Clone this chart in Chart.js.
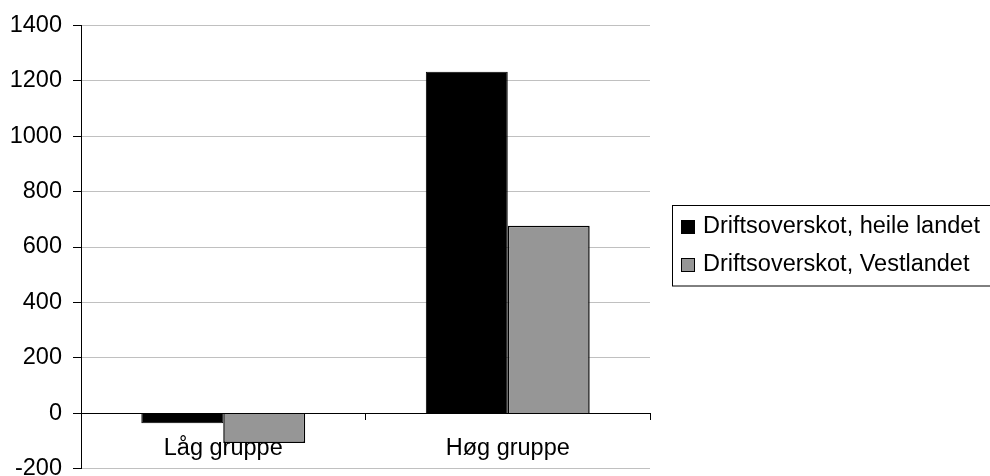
<!DOCTYPE html>
<html>
<head>
<meta charset="utf-8">
<script src="https://cdn.jsdelivr.net/npm/chart.js@4"></script>
<style>
  html, body { margin: 0; background: #fff; overflow: hidden; }
  #wrap { width: 990px; height: 494px; position: relative; }
</style>
</head>
<body>
<div id="wrap"><canvas id="grafica"></canvas></div>
<script>
const categories = ['Låg gruppe', 'Høg gruppe'];
const seriesNames = ['Driftsoverskot, heile landet', 'Driftsoverskot, Vestlandet'];
const heileLandet = [-35, 1232];
const vestlandet = [-107, 677];
const yMin = -200, yMax = 1400, yStep = 200;

const FONT = "'Liberation Sans', Arial, sans-serif";
const FSIZE = 23.5;

// legend drawn as a boxed list to the right, like the original
const boxLegend = {
   id: 'boxLegend',
   afterDraw(chart) {
      const c = chart.ctx;
      c.save();
      c.strokeStyle = '#000';
      c.lineWidth = 1;
      c.strokeRect(672.5, 205.5, 330, 80.5);
      c.font = FSIZE + 'px ' + FONT;
      c.textBaseline = 'middle';
      chart.data.datasets.forEach((ds, i) => {
         const y = 227 + i * 38;
         c.fillStyle = ds.backgroundColor;
         c.fillRect(681, y - 7, 14, 14);
         c.strokeRect(681.5, y - 6.5, 13, 13);
         c.fillStyle = '#000';
         c.fillText(ds.label, 703, y);
      });
      c.restore();
   }
};

const ctx = document.getElementById('grafica').getContext('2d');

const chart = new Chart(ctx, {
   type: 'bar',
   data: {
      labels: categories,
      datasets: [{
         label: seriesNames[0],
         data: heileLandet,
         backgroundColor: '#000000',
         borderColor: '#000000',
         borderWidth: 1
      }, {
         label: seriesNames[1],
         data: vestlandet,
         backgroundColor: '#969696',
         borderColor: '#000000',
         borderWidth: 1.5
      }]
   },
   plugins: [boxLegend],
   options: {
      responsive: true,
      maintainAspectRatio: false,
      animation: false,
      layout: { padding: { top: 22, right: 340, bottom: 0, left: 0 } },
      datasets: { bar: { categoryPercentage: 0.576, barPercentage: 1 } },
      plugins: {
         legend: { display: false },
         tooltip: { enabled: false }
      },
      scales: {
         x: {
            position: { y: 0 },
            z: -1, // labels sit behind the bars, as in the original
            grid: {
               offset: true,
               drawOnChartArea: false,
               drawTicks: true,
               tickLength: 6,
               tickColor: '#000'
            },
            border: { color: '#000', width: 1 },
            ticks: {
               color: '#000',
               padding: 15,
               font: { family: FONT, size: FSIZE },
               maxRotation: 0
            }
         },
         y: {
            min: yMin,
            max: yMax,
            afterFit(scale) { scale.width = 81; },
            ticks: {
               stepSize: yStep,
               color: '#000',
               padding: 11,
               font: { family: FONT, size: FSIZE },
               callback: v => String(v)
            },
            grid: {
               color: '#c0c0c0',
               tickColor: '#000',
               tickLength: 8
            },
            border: { color: '#000', width: 1 }
         }
      }
   }
});
</script>
</body>
</html>
